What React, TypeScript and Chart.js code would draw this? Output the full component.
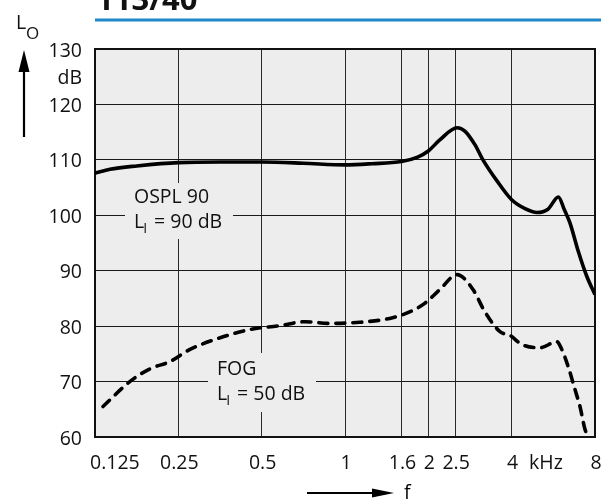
import React, { useEffect, useRef } from "react";
import { Chart, registerables } from "chart.js";

Chart.register(...registerables);

// Data (frequency in kHz, level in dB)
const osplFreq = [0.125, 0.1416, 0.177, 0.25, 0.354, 0.5, 0.707, 1.0, 1.25, 1.6, 1.83, 2.0, 2.2, 2.54, 2.71, 2.95, 3.15, 3.54, 4.0, 4.47, 4.94, 5.41, 5.9, 6.2, 6.5, 6.96, 7.47, 8.0];
const osplLevel = [107.6, 108.3, 108.9, 109.5, 109.6, 109.6, 109.4, 109.1, 109.3, 109.7, 110.5, 111.6, 113.6, 115.8, 115.2, 112.7, 110.0, 106.2, 102.8, 101.2, 100.5, 101.1, 103.3, 101.0, 98.6, 93.5, 89.0, 85.7];

const fogFreq = [0.1336, 0.167, 0.1975, 0.233, 0.2755, 0.354, 0.454, 0.582, 0.717, 0.883, 1.13, 1.45, 1.72, 1.94, 2.2, 2.54, 2.9, 3.2, 3.63, 3.95, 4.35, 5.06, 5.83, 6.07, 6.4, 6.77, 7.06, 7.36, 7.56];
const fogLevel = [65.5, 70.0, 72.3, 73.6, 75.8, 77.9, 79.4, 80.1, 80.8, 80.5, 80.7, 81.4, 82.6, 84.1, 86.6, 89.3, 86.6, 82.6, 79.0, 78.3, 76.7, 76.1, 77.2, 75.8, 72.7, 68.6, 65.5, 61.4, 60.0];

const xGridTicks = [0.125, 0.25, 0.5, 1, 1.6, 2, 2.5, 4, 8];
const xTickLabels = ["0.125", "0.25", "0.5", "1", "1.6", "2", "2.5", "4", "8"];
const xUnitPos = 5.32;
const xUnitLabel = "kHz";
const yTicks = [60, 70, 80, 90, 100, 110, 120, 130];
const yUnitPos = 125;
const yUnitLabel = "dB";
const titleText = "113/40";

const FONT = "'Open Sans', 'Noto Sans', sans-serif";
const BG = "#ededed";

const drawPlugin = {
  id: "decor",
  beforeDraw(chart: any) {
    const { ctx, chartArea: a } = chart;
    ctx.save();
    ctx.fillStyle = "#ffffff";
    ctx.fillRect(0, 0, chart.width, chart.height);
    ctx.fillStyle = BG;
    ctx.fillRect(a.left, a.top, a.right - a.left, a.bottom - a.top);
    ctx.restore();
  },
  beforeDatasetsDraw(chart: any) {
    const { ctx, chartArea: a } = chart;
    const xs = chart.scales.x;
    const ys = chart.scales.y;
    ctx.save();
    // label boxes covering grid lines
    ctx.fillStyle = BG;
    ctx.fillRect(125, 183, 108, 56);
    ctx.fillRect(208, 353, 108, 59);
    // border
    ctx.strokeStyle = "#111";
    ctx.lineWidth = 2;
    ctx.strokeRect(a.left, a.top, a.right - a.left, a.bottom - a.top);

    ctx.fillStyle = "#111";
    ctx.font = `19.5px ${FONT}`;
    // y tick labels
    ctx.textAlign = "right";
    ctx.textBaseline = "middle";
    yTicks.forEach((v) => {
      ctx.fillText(String(v), a.left - 13, ys.getPixelForValue(v) + 2);
    });
    ctx.fillText(yUnitLabel, a.left - 13, ys.getPixelForValue(yUnitPos) + 2);
    // x tick labels
    xGridTicks.forEach((v, i) => {
      const px = xs.getPixelForValue(v);
      if (i === 0) {
        ctx.textAlign = "left";
        ctx.fillText(xTickLabels[i], px - 5, a.bottom + 26);
      } else {
        ctx.textAlign = "center";
        ctx.fillText(xTickLabels[i], px + 1, a.bottom + 26);
      }
    });
    ctx.textAlign = "center";
    ctx.fillText(xUnitLabel, xs.getPixelForValue(xUnitPos), a.bottom + 26);

    // series annotations
    ctx.textAlign = "left";
    ctx.textBaseline = "alphabetic";
    const sub = (x: number, y: number, main: string, s: string, rest: string) => {
      ctx.font = `19.5px ${FONT}`;
      ctx.fillText(main, x, y);
      const w = ctx.measureText(main).width;
      ctx.font = `14px ${FONT}`;
      ctx.fillText(s, x + w - 1, y + 5);
      const w2 = ctx.measureText(s).width;
      ctx.font = `19.5px ${FONT}`;
      ctx.fillText(rest, x + w - 1 + w2 + 7, y);
    };
    ctx.font = `19.5px ${FONT}`;
    ctx.fillText("OSPL 90", 134, 203);
    sub(134, 228, "L", "I", "= 90 dB");
    ctx.font = `19.5px ${FONT}`;
    ctx.fillText("FOG", 217, 375);
    sub(217, 400, "L", "I", "= 50 dB");

    // y axis label
    ctx.font = `19.5px ${FONT}`;
    ctx.fillText("L", 16, 29);
    ctx.font = `17px ${FONT}`;
    ctx.fillText("O", 26, 39);

    // y arrow
    ctx.strokeStyle = "#000";
    ctx.fillStyle = "#000";
    ctx.lineWidth = 2.2;
    ctx.beginPath();
    ctx.moveTo(24, 137);
    ctx.lineTo(24, 68);
    ctx.stroke();
    ctx.beginPath();
    ctx.moveTo(24, 50);
    ctx.lineTo(18.5, 72);
    ctx.lineTo(29.5, 72);
    ctx.closePath();
    ctx.fill();

    // x arrow
    ctx.beginPath();
    ctx.moveTo(307, 493);
    ctx.lineTo(376, 493);
    ctx.stroke();
    ctx.beginPath();
    ctx.moveTo(394, 493);
    ctx.lineTo(372, 488.5);
    ctx.lineTo(372, 497.5);
    ctx.closePath();
    ctx.fill();
    ctx.font = `19.5px ${FONT}`;
    ctx.fillText("f", 404, 499);

    // title
    ctx.font = `bold 31px ${FONT}`;
    ctx.fillStyle = "#111";
    ctx.fillText(titleText, 96, 10);
    ctx.strokeStyle = "#1e88c8";
    ctx.lineWidth = 3;
    ctx.beginPath();
    ctx.moveTo(95, 20);
    ctx.lineTo(601, 20);
    ctx.stroke();
    ctx.restore();
  },
};

export default function App() {
  const ref = useRef<HTMLCanvasElement | null>(null);
  useEffect(() => {
    document.body.style.margin = "0";
    if (!ref.current) return;
    const chart = new Chart(ref.current, {
      type: "line",
      data: {
        datasets: [
          {
            label: "OSPL 90",
            data: osplFreq.map((f, i) => ({ x: f, y: osplLevel[i] })),
            borderColor: "#000",
            borderWidth: 3.6,
            pointRadius: 0,
            cubicInterpolationMode: "monotone",
            fill: false,
          },
          {
            label: "FOG",
            data: fogFreq.map((f, i) => ({ x: f, y: fogLevel[i] })),
            borderColor: "#000",
            borderWidth: 3.6,
            borderDash: [9, 8],
            borderCapStyle: "round",
            pointRadius: 0,
            cubicInterpolationMode: "monotone",
            fill: false,
          },
        ],
      },
      options: {
        animation: false,
        responsive: false,
        events: [],
        layout: { padding: { left: 95, top: 49, right: 6, bottom: 62 } },
        plugins: { legend: { display: false }, tooltip: { enabled: false } },
        scales: {
          x: {
            type: "logarithmic",
            min: 0.125,
            max: 8,
            afterBuildTicks: (scale: any) => {
              scale.ticks = xGridTicks.map((v) => ({ value: v }));
            },
            ticks: { display: false },
            grid: { color: "#2a2a2a", lineWidth: 1, drawTicks: false },
            border: { display: false },
          },
          y: {
            type: "linear",
            min: 60,
            max: 130,
            afterBuildTicks: (scale: any) => {
              scale.ticks = yTicks.map((v) => ({ value: v }));
            },
            ticks: { display: false },
            grid: { color: "#1a1a1a", lineWidth: 1, drawTicks: false },
            border: { display: false },
          },
        },
      } as any,
      plugins: [drawPlugin],
    });
    return () => chart.destroy();
  }, []);
  return (
    <div style={{ position: "fixed", left: 0, top: 0, width: 601, height: 499 }}>
      <canvas ref={ref} width={601} height={499} style={{ width: 601, height: 499 }} />
    </div>
  );
}
